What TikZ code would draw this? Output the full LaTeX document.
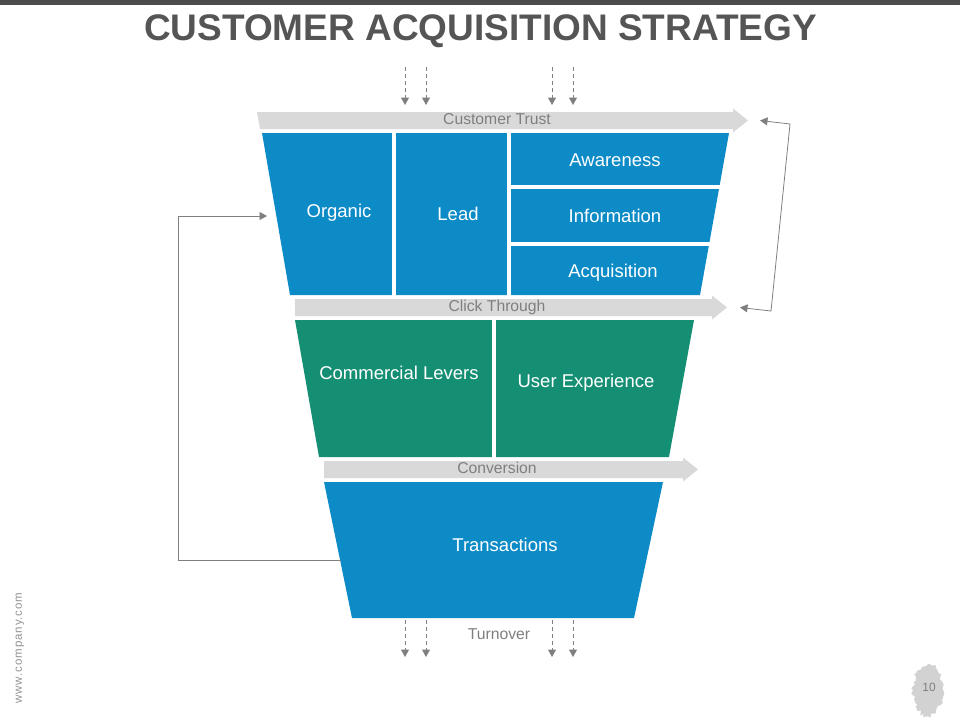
\documentclass[tikz,border=0pt]{standalone}
\usepackage{fontspec}
\setmainfont{Liberation Sans}
\usetikzlibrary{arrows.meta,positioning,calc,decorations.pathmorphing}

\definecolor{funnelblue}{RGB}{13,139,199}
\definecolor{funnelgreen}{RGB}{20,143,116}
\definecolor{bandgray}{RGB}{217,217,217}
\definecolor{linkgray}{RGB}{127,127,127}
\definecolor{titlegray}{RGB}{85,85,85}

% name, top, left top, left bottom, head start, tip, text
\newcommand{\flowband}[7]{%
  \fill[bandgray] (#3,#2) -- (#5,#2) -- (#5,#2-3.5) -- (#6,#2+8.5) -- (#5,#2+20.5) -- (#5,#2+17) -- (#4,#2+17) -- cycle;
  \coordinate (#1-tip) at (#6,#2+8.5);
  \node[bandtext] (#1) at (497,#2+6.5) {#7};
}

\begin{document}
\begin{tikzpicture}[x=1pt,y=-1pt,>={Triangle[length=7.5pt,width=8pt]}]
  \tikzstyle{boxtext}=[text=white,inner sep=0pt,text height=13.2pt,text depth=0pt,font=\fontsize{18.5}{20}\selectfont]
  \tikzstyle{bandtext}=[text=linkgray,inner sep=0pt,text height=11.2pt,text depth=0pt,font=\fontsize{15.7}{17}\selectfont]
  \tikzstyle{link}=[draw=linkgray,line width=0.8pt]
  \tikzstyle{feed}=[draw=linkgray,line width=1pt,dash pattern=on 4pt off 3pt]
  \tikzstyle{cut}=[draw=white,line width=4pt]
  \useasboundingbox (0,0) rectangle (960,720);
  \fill[titlegray!90!black] (0,0) rectangle (960,5);
  \node[text=titlegray,inner sep=0pt,text height=26.5pt,text depth=0pt,font=\bfseries\fontsize{37}{40}\selectfont] (title) at (480.5,27.5) {CUSTOMER ACQUISITION STRATEGY};

  % funnel
  \fill[funnelblue] (262,133) -- (729,133) -- (700,295) -- (290,295) -- cycle;
  \fill[funnelgreen] (295,320) -- (694,320) -- (669,457) -- (319,457) -- cycle;
  \fill[funnelblue] (324,482) -- (663,482) -- (634,618) -- (352,618) -- cycle;
  \draw[cut] (394,130) -- (394,298);
  \draw[cut] (508.7,130) -- (508.7,298);
  \draw[cut] (508.7,187) -- (735,187);
  \draw[cut] (508.7,244) -- (735,244);
  \draw[cut] (494,317) -- (494,460);

  % bands
  \flowband{trust}{112}{257}{260}{733}{748}{Customer Trust}
  \flowband{click}{299}{295}{295}{712}{727}{Click Through}
  \flowband{conv}{461}{324}{324}{683}{698}{Conversion}

  \node[boxtext] (organic) at (339,211) {Organic};
  \node[boxtext] (lead) at (458,214) {Lead};
  \node[boxtext] (aware) at (615,160) {Awareness};
  \node[boxtext] (info) at (615,216) {Information};
  \node[boxtext] (acq) at (613,271) {Acquisition};
  \node[boxtext] (levers) at (399,373) {Commercial Levers};
  \node[boxtext] (ux) at (586,381) {User Experience};
  \node[boxtext] (trans) at (505,545) {Transactions};
  \node[bandtext] (turnover) at (499,634) {Turnover};

  \foreach \x in {405,426,552,573} {
    \coordinate (in-\x) at (\x,67);
    \coordinate (out-\x) at (\x,620);
    \draw[feed,->] (in-\x) -- (\x,105);
    \draw[feed,->] (out-\x) -- (\x,657);
  }

  \coordinate (trans-w) at (341,560);
  \coordinate (organic-w) at (267,216);
  \draw[link,->] (trans-w) -- ++(-163,0) |- (organic-w);
  \draw[link,<->] ([xshift=12pt]trust-tip) -- (790,124) -- (771,311) -- ([xshift=13pt]click-tip);

  \pgfmathsetseed{7}
  \fill[gray!35,decorate,decoration={random steps,segment length=2.5pt,amplitude=2pt}] (928,690) ellipse [x radius=15pt,y radius=26pt];
  \node[text=linkgray,font=\fontsize{12}{14}\selectfont] (pageno) at (929,687) {10};
  \node[rotate=90,text=linkgray!85,font=\fontsize{11.5}{13}\selectfont\addfontfeatures{LetterSpace=8}] (web) at (20,648) {www.company.com};
\end{tikzpicture}
\end{document}
